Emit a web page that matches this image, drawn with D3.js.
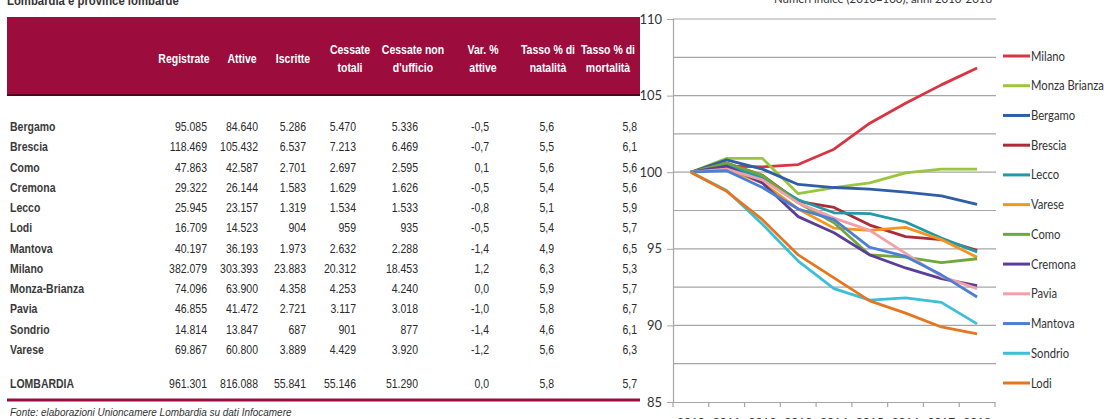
<!DOCTYPE html>
<meta charset="utf-8">
<script src="https://d3js.org/d3.v7.min.js"></script>
<style>
  body { margin: 0; background: #fff; }
  svg { display: block; }
</style>
<div id="my_dataviz"></div>
<script>

// table data
var provinces = ["Bergamo", "Brescia", "Como", "Cremona", "Lecco", "Lodi", "Mantova", "Milano", "Monza-Brianza", "Pavia", "Sondrio", "Varese"];
var registrate = [95085, 118469, 47863, 29322, 25945, 16709, 40197, 382079, 74096, 46855, 14814, 69867];
var attive = [84640, 105432, 42587, 26144, 23157, 14523, 36193, 303393, 63900, 41472, 13847, 60800];
var iscritte = [5286, 6537, 2701, 1583, 1319, 904, 1973, 23883, 4358, 2721, 687, 3889];
var cessateTotali = [5470, 7213, 2697, 1629, 1534, 959, 2632, 20312, 4253, 3117, 901, 4429];
var cessateNonUfficio = [5336, 6469, 2595, 1626, 1533, 935, 2288, 18453, 4240, 3018, 877, 3920];
var varAttive = [-0.5, -0.7, 0.1, -0.5, -0.8, -0.5, -1.4, 1.2, 0.0, -1.0, -1.4, -1.2];
var natalita = [5.6, 5.5, 5.6, 5.4, 5.1, 5.4, 4.9, 6.3, 5.9, 5.8, 4.6, 5.6];
var mortalita = [5.8, 6.1, 5.6, 5.6, 5.9, 5.7, 6.5, 5.3, 5.7, 6.7, 6.1, 6.3];
var totalLabel = "LOMBARDIA";
var totalRow = [961301, 816088, 55841, 55146, 51290, 0.0, 5.8, 5.7];
var headers = [["Registrate"], ["Attive"], ["Iscritte"], ["Cessate", "totali"], ["Cessate non", "d'ufficio"],
               ["Var. %", "attive"], ["Tasso % di", "natalità"], ["Tasso % di", "mortalità"]];

// line chart data (index numbers, 2010 = 100)
var years = ["2010", "2011", "2012", "2013", "2014", "2015", "2016", "2017", "2018"];
var seriesNames = ["Milano", "Monza Brianza", "Bergamo", "Brescia", "Lecco", "Varese", "Como", "Cremona", "Pavia", "Mantova", "Sondrio", "Lodi"];
var milano       = [100, 100.4, 100.35, 100.5, 101.5, 103.2, 104.5, 105.7, 106.8];
var monzaBrianza = [100, 100.9, 100.9, 98.6, 99.0, 99.3, 99.95, 100.2, 100.2];
var bergamo      = [100, 100.8, 100.2, 99.2, 99.0, 98.9, 98.7, 98.45, 97.9];
var brescia      = [100, 100.6, 99.8, 98.1, 97.7, 96.55, 95.8, 95.6, 94.9];
var lecco        = [100, 100.5, 99.6, 98.2, 97.35, 97.3, 96.75, 95.7, 94.8];
var varese       = [100, 100.2, 99.3, 97.6, 96.35, 96.2, 96.4, 95.6, 94.45];
var como         = [100, 100.6, 99.8, 98.0, 96.7, 94.6, 94.45, 94.1, 94.35];
var cremona      = [100, 100.4, 99.3, 97.1, 96.05, 94.6, 93.75, 93.05, 92.6];
var pavia        = [100, 100.2, 99.5, 98.0, 97.0, 96.2, 94.7, 93.2, 92.4];
var mantova      = [100, 100.1, 99.0, 97.6, 96.9, 95.1, 94.5, 93.3, 91.85];
var sondrio      = [100, 98.8, 96.6, 94.2, 92.4, 91.65, 91.8, 91.5, 90.1];
var lodi         = [100, 98.75, 96.9, 94.6, 93.1, 91.6, 90.8, 89.9, 89.45];
var seriesValues = [milano, monzaBrianza, bergamo, brescia, lecco, varese, como, cremona, pavia, mantova, sondrio, lodi];
var seriesColors = ["#d9343f", "#9bc53d", "#2e5ea8", "#ad2b36", "#1f9aa6", "#f7941d", "#6fa83a", "#5b3f96", "#f0a0a8", "#4a7fd4", "#3cbfd6", "#e5761f"];
var yTicks = [85, 90, 95, 100, 105, 110];

var W = 1104, H = 419;
var svg = d3.select("#my_dataviz").append("svg").attr("width", W).attr("height", H);

var sans = "'Liberation Sans', Arial, sans-serif";
var calibri = "Lato, 'Open Sans', sans-serif";
var crimson = "#9c0c3c";
var SQ = 0.84;  // horizontal squeeze to mimic Arial Narrow

function tr(x, y, s) { return "translate(" + x + "," + y + ") scale(" + (s || SQ) + ",1)"; }

// Italian number format
var it = d3.formatLocale({decimal: ",", thousands: ".", grouping: [3], currency: ["€", ""], minus: "-"});
var fInt = it.format(",d"), fDec = it.format(".1f");

// ---------------- table ----------------
svg.append("text").attr("transform", tr(7, 4.5)).attr("font-family", sans).attr("font-size", 13.5)
  .attr("font-weight", "bold").attr("fill", "#333").text("Lombardia e province lombarde");

svg.append("rect").attr("x", 7).attr("y", 17).attr("width", 633).attr("height", 79).attr("fill", crimson);
svg.append("line").attr("x1", 7).attr("x2", 640).attr("y1", 95).attr("y2", 95).attr("stroke", "#3a0010").attr("stroke-width", 1.5);

var colRight = [207, 258, 306, 356, 418, 489, 554, 637];
var colHead = [184, 242, 293, 350, 413, 483, 548, 608];

headers.forEach(function(h, i) {
  h.forEach(function(s, k) {
    var yy = h.length === 1 ? 63 : (k === 0 ? 54 : 72);
    svg.append("text").attr("transform", tr(colHead[i], yy)).attr("text-anchor", "middle")
      .attr("font-family", sans).attr("font-size", 12.5).attr("font-weight", "bold").attr("fill", "#fff").text(s);
  });
});

var rowY = d3.scalePoint().domain(provinces).range([131, 354]);
var columns = [registrate, attive, iscritte, cessateTotali, cessateNonUfficio, varAttive, natalita, mortalita];
var formats = [fInt, fInt, fInt, fInt, fInt, fDec, fDec, fDec];

var rows = svg.append("g").selectAll("g").data(provinces).enter().append("g")
  .attr("transform", function(d) { return "translate(0," + rowY(d) + ")"; });
rows.append("text").attr("transform", tr(10, 0)).attr("font-family", sans).attr("font-size", 12.5)
  .attr("fill", "#3a3a3a").attr("font-weight", "bold").text(function(d) { return d; });
columns.forEach(function(col, c) {
  rows.append("text").attr("transform", tr(colRight[c], 0)).attr("text-anchor", "end")
    .attr("font-family", sans).attr("font-size", 12.5).attr("fill", "#2a2a2a")
    .text(function(d, i) { return formats[c](col[i]); });
});

var tot = svg.append("g").attr("transform", "translate(0,388)");
tot.append("text").attr("transform", tr(10, 0)).attr("font-family", sans).attr("font-size", 12.5)
  .attr("font-weight", "bold").attr("fill", "#3a3a3a").text(totalLabel);
totalRow.forEach(function(v, c) {
  tot.append("text").attr("transform", tr(colRight[c], 0)).attr("text-anchor", "end")
    .attr("font-family", sans).attr("font-size", 12.5).attr("fill", "#2a2a2a").text(formats[c](v));
});

svg.append("line").attr("x1", 7).attr("x2", 640).attr("y1", 400).attr("y2", 400)
  .attr("stroke", crimson).attr("stroke-width", 3);
svg.append("text").attr("transform", tr(10, 416, 0.95)).attr("font-family", sans)
  .attr("font-size", 10.5).attr("font-style", "italic").attr("fill", "#333")
  .text("Fonte: elaborazioni Unioncamere Lombardia su dati Infocamere");

// ---------------- line chart ----------------
svg.append("text").attr("transform", tr(883, 3, 0.95)).attr("text-anchor", "middle")
  .attr("font-family", calibri).attr("font-size", 12).attr("fill", "#333")
  .text("Numeri indice (2010=100), anni 2010-2018");

var x = d3.scaleBand().domain(years).range([673, 995]);
var y = d3.scaleLinear().domain([85, 110]).range([402, 19]);

// gridlines every 2.5
var grid = svg.append("g");
grid.selectAll("line").data(d3.range(87.5, 110.1, 2.5)).enter().append("line")
  .attr("x1", 673).attr("x2", 996).attr("y1", function(d) { return y(d); }).attr("y2", function(d) { return y(d); })
  .attr("stroke", "#a6a6a6").attr("stroke-width", 1.2);

var yAxis = svg.append("g").attr("transform", "translate(673,0)")
  .call(d3.axisLeft(y).tickValues(yTicks).tickSize(6).tickPadding(5));
yAxis.select(".domain").attr("stroke", "#a6a6a6").attr("stroke-width", 1.2);
yAxis.selectAll(".tick line").attr("stroke", "#a6a6a6");
yAxis.selectAll("text").attr("font-family", calibri).attr("font-size", 13).attr("fill", "#333");

var xAxis = svg.append("g").attr("transform", "translate(0,402)")
  .call(d3.axisBottom(x).tickSize(0).tickPadding(15));
xAxis.select(".domain").attr("stroke", "#a6a6a6").attr("stroke-width", 1.2);
xAxis.selectAll("text").attr("font-family", calibri).attr("font-size", 12).attr("fill", "#333");
// category boundary ticks
svg.append("g").selectAll("line").data(years.concat(["end"])).enter().append("line")
  .attr("x1", function(d, i) { return x.range()[0] + i * x.step(); })
  .attr("x2", function(d, i) { return x.range()[0] + i * x.step(); })
  .attr("y1", 402).attr("y2", 407).attr("stroke", "#a6a6a6").attr("stroke-width", 1.2);

var line = d3.line()
  .x(function(d, i) { return x(years[i]) + x.bandwidth() / 2; })
  .y(function(d) { return y(d); });

svg.append("g").selectAll("path").data(seriesValues).enter().append("path")
  .attr("d", line).attr("fill", "none")
  .attr("stroke", function(d, i) { return seriesColors[i]; })
  .attr("stroke-width", 2.8).attr("stroke-linejoin", "round");

// legend
var legY = d3.scalePoint().domain(seriesNames).range([56, 383]);
var leg = svg.append("g").selectAll("g").data(seriesNames).enter().append("g")
  .attr("transform", function(d) { return "translate(1003," + legY(d) + ")"; });
leg.append("line").attr("x1", 0).attr("x2", 27).attr("y1", 0).attr("y2", 0)
  .attr("stroke", function(d, i) { return seriesColors[i]; }).attr("stroke-width", 3);
leg.append("text").attr("transform", tr(28, 4.5, 0.9)).attr("font-family", calibri).attr("font-size", 12.5)
  .attr("fill", "#333").text(function(d) { return d; });

</script>
